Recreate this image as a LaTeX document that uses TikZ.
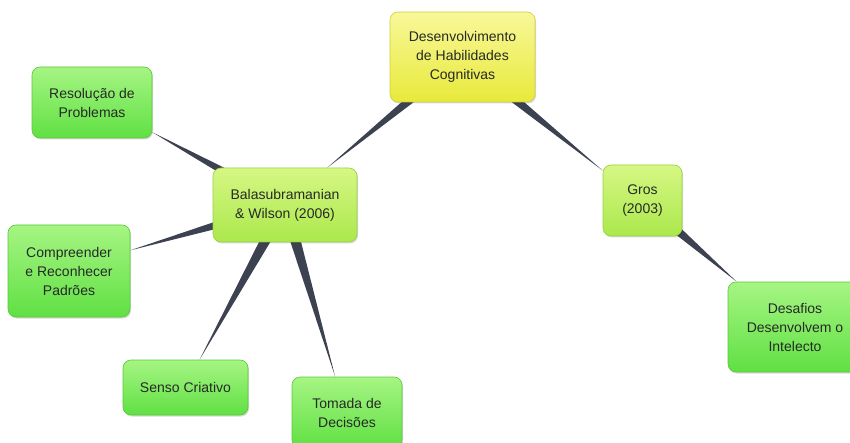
\documentclass[tikz,border=0pt]{standalone}
\usepackage{fontspec}
\setmainfont{Liberation Sans}
\usetikzlibrary{calc,backgrounds,shadows}

\definecolor{inktext}{HTML}{262A26}
\definecolor{linkfill}{HTML}{3D4250}
\definecolor{ylwtop}{HTML}{F8F89A}
\definecolor{ylwbot}{HTML}{E8E93A}
\definecolor{ylwline}{HTML}{CFCF3C}
\definecolor{limetop}{HTML}{D6F784}
\definecolor{limebot}{HTML}{ABE84C}
\definecolor{limeline}{HTML}{98D044}
\definecolor{grntop}{HTML}{A6F583}
\definecolor{grnbot}{HTML}{60E043}
\definecolor{grnline}{HTML}{58C83A}

% tapered link: broad at the parent, narrowing to a point at the child
\newcommand\branch[2]{%
  \fill[linkfill] ($(#1)!6.5pt!90:(#2)$) -- ($(#1)!6.5pt!-90:(#2)$) -- (#2) -- cycle;}

\tikzset{
  topic/.style={rectangle, rounded corners=8pt, align=center, inner sep=2pt,
    font=\fontsize{14}{19}\selectfont, text=inktext, line width=0.6pt,
    drop shadow={shadow xshift=1pt, shadow yshift=-1.5pt, fill=black, opacity=0.15}},
  rootbox/.style={topic, top color=ylwtop, bottom color=ylwbot, draw=ylwline},
  authorbox/.style={topic, top color=limetop, bottom color=limebot, draw=limeline},
  ideabox/.style={topic, top color=grntop, bottom color=grnbot, draw=grnline},
}

\begin{document}
\begin{tikzpicture}[x=1pt, y=-1pt]
\useasboundingbox (0,0) rectangle (850,443);

\node[rootbox, minimum width=145pt, minimum height=90pt] (root) at (462.5,57)
  {Desenvolvimento\\de Habilidades\\Cognitivas};

\node[authorbox, minimum width=144pt, minimum height=74pt] (bal) at (285,205)
  {Balasubramanian\\\& Wilson (2006)};
\node[authorbox, minimum width=79pt, minimum height=71pt] (gros) at (642.5,200.5)
  {Gros\\(2003)};

\node[ideabox, minimum width=120pt, minimum height=71pt] (res) at (92,102.5)
  {Resolução de\\Problemas};
\node[ideabox, minimum width=122pt, minimum height=92pt] (comp) at (69,271)
  {Compreender\\e Reconhecer\\Padrões};
\node[ideabox, minimum width=125pt, minimum height=55pt] (senso) at (185.5,387.5)
  {Senso Criativo};
\node[ideabox, minimum width=110pt, minimum height=71pt] (toma) at (347,412.5)
  {Tomada de\\Decisões};
\node[ideabox, minimum width=134pt, minimum height=90pt] (desa) at (795,327)
  {Desafios\\Desenvolvem o\\Intelecto};

\begin{scope}[on background layer]
  \fill[white] (0,0) rectangle (850,443);
  \branch{root}{bal}
  \branch{root}{gros}
  \branch{bal}{res}
  \branch{bal}{comp}
  \branch{bal}{senso}
  \branch{bal}{toma}
  \branch{gros}{desa}
\end{scope}
\end{tikzpicture}
\end{document}
